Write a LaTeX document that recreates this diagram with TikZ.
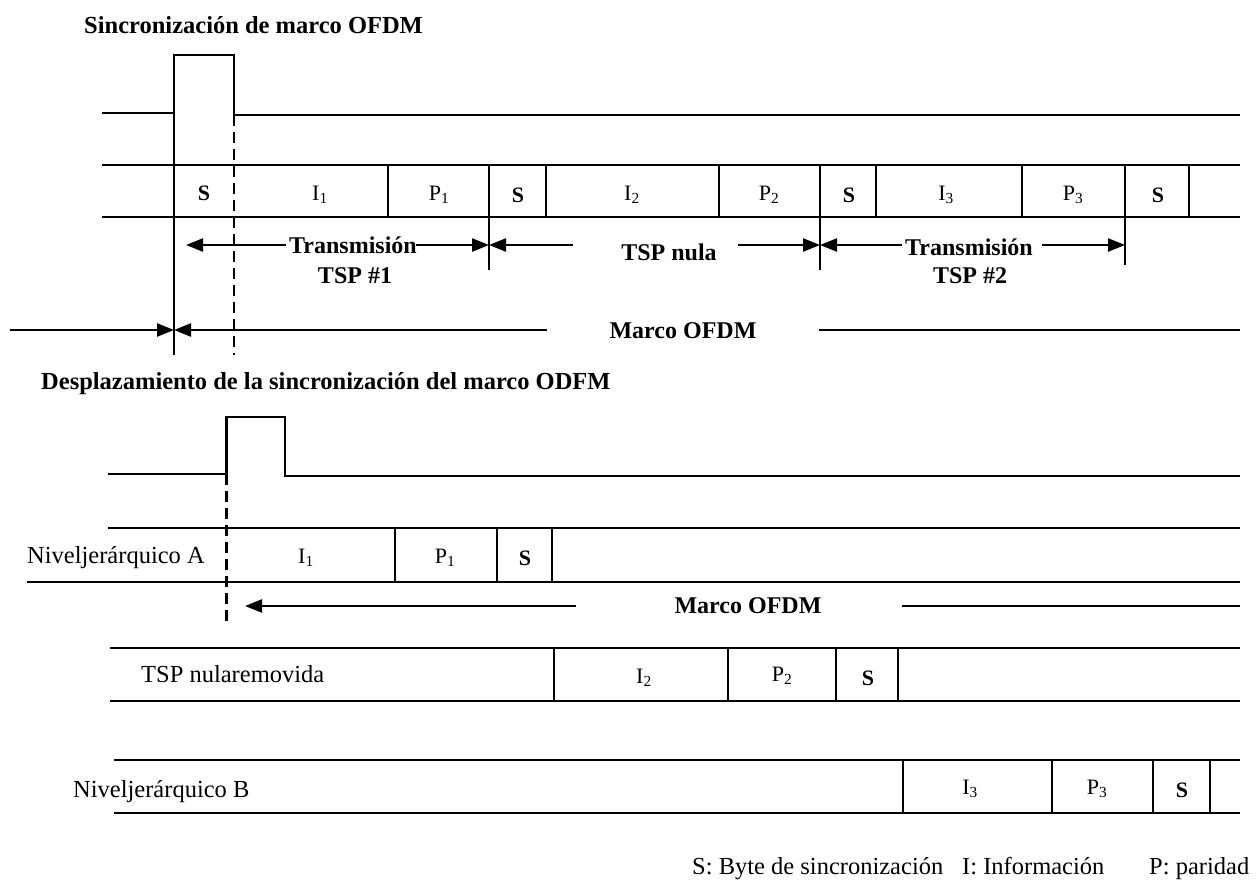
\documentclass[tikz,border=0pt]{standalone}
\usepackage{fontspec}
\setmainfont{Liberation Serif}
\usetikzlibrary{arrows.meta}
\begin{document}
\begin{tikzpicture}[x=1pt,y=-1pt,
  wire/.style={line width=2.4pt},
  sep/.style={line width=2pt},
  guide/.style={line width=2.2pt, dash pattern=on 11pt off 6pt},
  tip/.style={-{Triangle[length=17pt,width=13pt]}},
  head/.style={font=\fontsize{24.5}{28}\selectfont\bfseries, inner sep=0pt, anchor=base west},
  lbl/.style={font=\fontsize{24}{28}\selectfont\bfseries, inner sep=0pt, anchor=base},
  txt/.style={font=\fontsize{24.5}{28}\selectfont, inner sep=0pt, anchor=base west},
  cellS/.style={font=\fontsize{22}{26}\selectfont\bfseries, inner sep=0pt, anchor=base},
  cellIP/.style={font=\fontsize{22}{26}\selectfont, inner sep=0pt, anchor=base},
]
\useasboundingbox (0,0) rectangle (1260,886);

% ---------- frame synchronisation ----------
\node[head] (title1) at (84,33) {Sincronización de marco OFDM};

% sync pulse and its marker lines
\draw[wire] (102,113) -- (174,113) -- (174,55) -- (234,55) -- (234,115) -- (1240,115);
\draw[wire] (174,113) -- (174,355);
\draw[guide] (234,115) -- (234,355);

% transport stream row
\draw[wire] (102,165) -- (1240,165);
\draw[wire] (102,217) -- (1240,217);
\foreach \x in {388,546,719,876,1022,1189}
  \draw[sep] (\x,165) -- (\x,217);
\draw[sep] (489,165) -- (489,270);
\draw[sep] (820,165) -- (820,270);
\draw[sep] (1125,165) -- (1125,265);

\node[cellS]  (s0) at (204,200) {S};
\node[cellIP] (i1) at (320,200) {I\textsubscript{1}};
\node[cellIP] (p1) at (439,200) {P\textsubscript{1}};
\node[cellS]  (s1) at (518,202) {S};
\node[cellIP] (i2) at (632,200) {I\textsubscript{2}};
\node[cellIP] (p2) at (769,200) {P\textsubscript{2}};
\node[cellS]  (s2) at (849,202) {S};
\node[cellIP] (i3) at (946,200) {I\textsubscript{3}};
\node[cellIP] (p3) at (1073,200) {P\textsubscript{3}};
\node[cellS]  (s3) at (1158,202) {S};

% packet spans
\node[lbl] (tx1)  at (353,253) {Transmisión};
\node[lbl] (tsp1) at (355,283) {TSP \#1};
\node[lbl] (nula) at (669,260) {TSP nula};
\node[lbl] (tx2)  at (969,255) {Transmisión};
\node[lbl] (tsp2) at (970,283) {TSP \#2};

\coordinate (a0) at (186,245);
\coordinate (a1) at (489,245);
\coordinate (a2) at (820,245);
\coordinate (a3) at (1125,245);
\coordinate (l1) at (286,245);
\coordinate (r1) at (416,245);
\coordinate (l2) at (573,245);
\coordinate (r2) at (738,245);
\coordinate (l3) at (902,245);
\coordinate (r3) at (1042,245);
\draw[wire,tip] (l1) -- (a0);
\draw[wire,tip] (r1) -- (a1);
\draw[wire,tip] (l2) -- (a1);
\draw[wire,tip] (r2) -- (a2);
\draw[wire,tip] (l3) -- (a2);
\draw[wire,tip] (r3) -- (a3);

% OFDM frame span
\node[lbl] (mf1) at (683,338) {Marco OFDM};
\coordinate (m0) at (10,330);
\coordinate (m1) at (174,330);
\coordinate (m2) at (547,330);
\coordinate (m3) at (819,330);
\coordinate (m4) at (1240,330);
\draw[wire,tip] (m0) -- (m1);
\draw[wire,tip] (m2) -- (m1);
\draw[wire] (m3) -- (m4);

% ---------- shifted synchronisation ----------
\node[head] (title2) at (41,389) {Desplazamiento de la sincronización del marco ODFM};

\draw[wire] (108,474) -- (226.5,474) -- (226.5,417) -- (285,417) -- (285,476) -- (1240,476);
\draw[guide] (226.5,474) -- (226.5,622);

% hierarchical layer A
\draw[wire] (108,528) -- (1240,528);
\draw[wire] (27,582) -- (1240,582);
\foreach \x in {395,497,552}
  \draw[sep] (\x,528) -- (\x,582);
\node[txt] (nivA) at (27,563) {Niveljerárquico A};
\node[cellIP] (ai1) at (306,563) {I\textsubscript{1}};
\node[cellIP] (ap1) at (445,563) {P\textsubscript{1}};
\node[cellS]  (as1) at (525,565) {S};

% shifted frame span
\node[lbl] (mf2) at (748,613) {Marco OFDM};
\coordinate (n0) at (576,606);
\coordinate (n1) at (245,606);
\coordinate (n2) at (902,606);
\coordinate (n3) at (1240,606);
\draw[wire,tip] (n0) -- (n1);
\draw[wire] (n2) -- (n3);

% removed null packet
\draw[wire] (110,648) -- (1240,648);
\draw[wire] (110,701) -- (1240,701);
\foreach \x in {554,728,836,898}
  \draw[sep] (\x,648) -- (\x,701);
\node[txt] (nula2) at (141,682) {TSP nularemovida};
\node[cellIP] (bi2) at (644,683) {I\textsubscript{2}};
\node[cellIP] (bp2) at (782,681) {P\textsubscript{2}};
\node[cellS]  (bs2) at (868,685) {S};

% hierarchical layer B
\draw[wire] (114,760) -- (1240,760);
\draw[wire] (114,813) -- (1240,813);
\foreach \x in {903,1052,1153,1210}
  \draw[sep] (\x,760) -- (\x,813);
\node[txt] (nivB) at (73,797) {Niveljerárquico B};
\node[cellIP] (ci3) at (970,794) {I\textsubscript{3}};
\node[cellIP] (cp3) at (1097,794) {P\textsubscript{3}};
\node[cellS]  (cs3) at (1182,797) {S};

% legend
\node[txt] (legS) at (692,874) {S: Byte de sincronización};
\node[txt] (legI) at (962,874) {I: Información};
\node[txt] (legP) at (1149,874) {P: paridad};
\end{tikzpicture}
\end{document}
